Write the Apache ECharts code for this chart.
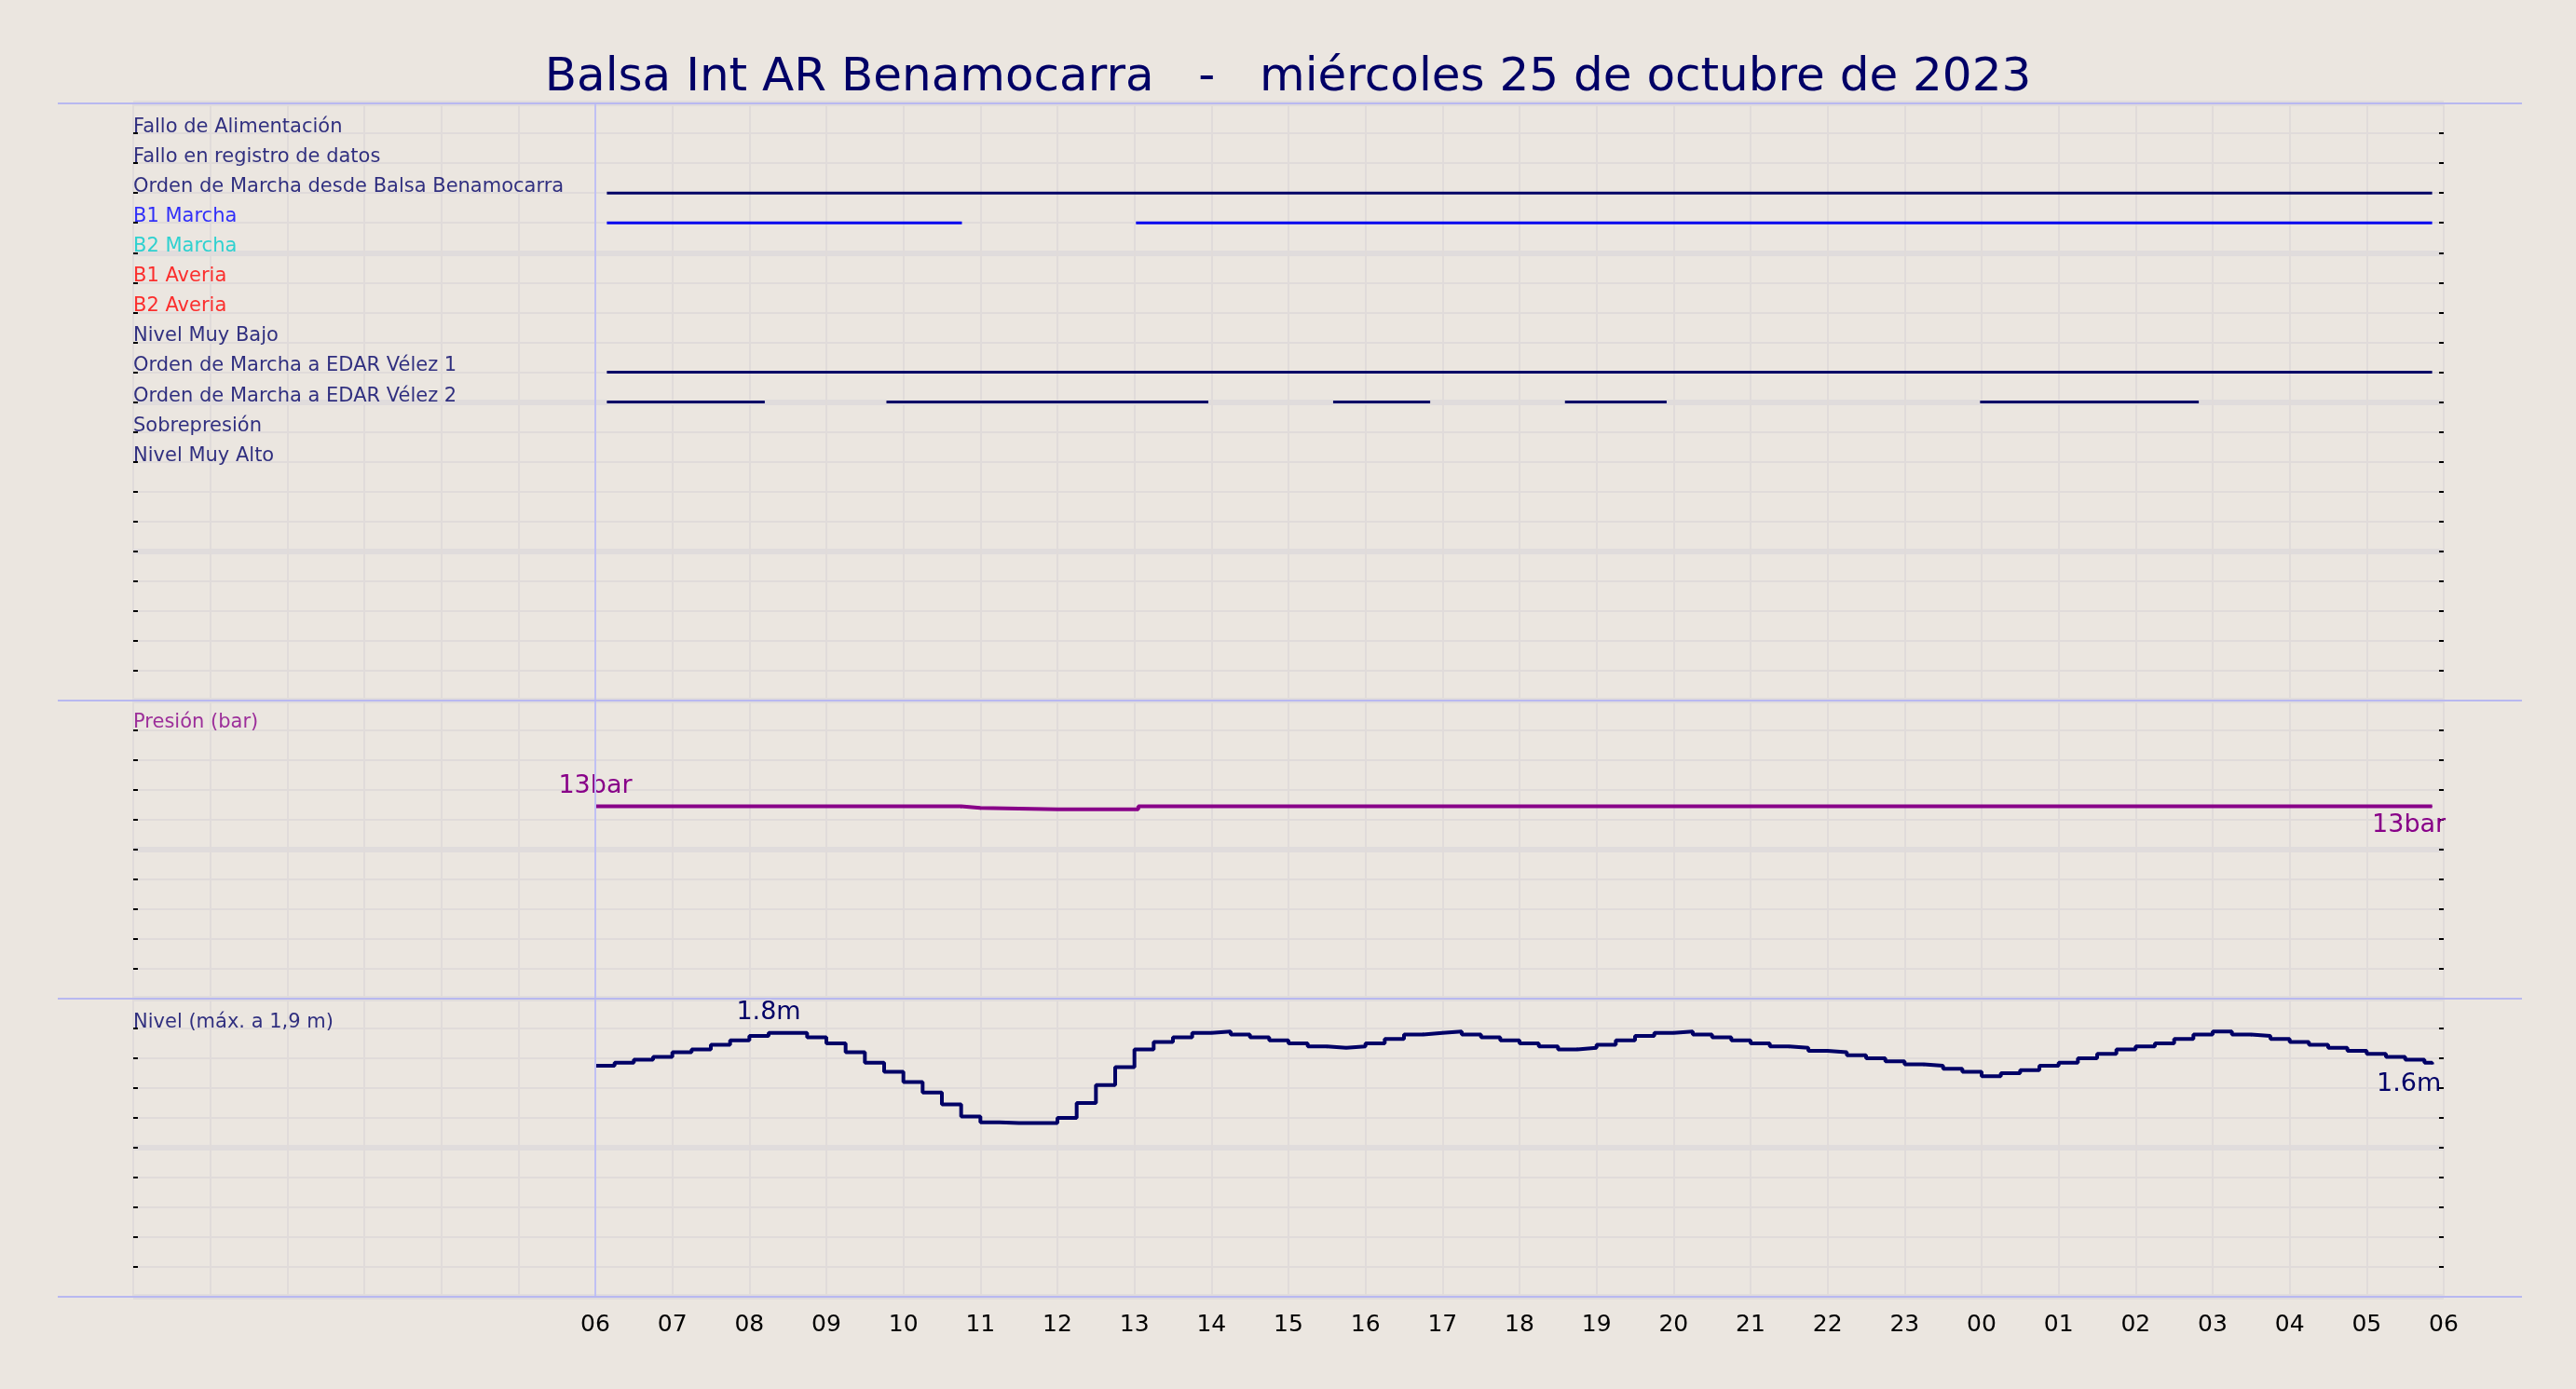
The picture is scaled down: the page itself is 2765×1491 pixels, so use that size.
<!DOCTYPE html>
<html><head><meta charset="utf-8">
<script src="https://cdn.jsdelivr.net/npm/echarts@6/dist/echarts.min.js"></script>
<style>html,body{margin:0;padding:0;background:#ebe6e0}#c{width:2765px;height:1491px}</style>
</head><body><div id="c"></div>
<script>
const rowNames = ['Fallo de Alimentación','Fallo en registro de datos','Orden de Marcha desde Balsa Benamocarra','B1 Marcha','B2 Marcha','B1 Averia','B2 Averia','Nivel Muy Bajo','Orden de Marcha a EDAR Vélez 1','Orden de Marcha a EDAR Vélez 2','Sobrepresión','Nivel Muy Alto'];
const rowColors = ['#000066','#000066','#000066','#0000ff','#00cccc','#ff0000','#ff0000','#000066','#000066','#000066','#000066','#000066'];
// segments [start hour, end hour] per row (hours from 00:00 of day 1)
const segOrdenBalsa = [[6.15,29.85]];
const segB1Marcha = [[6.15,10.76],[13.02,29.85]];
const segEdar1 = [[6.15,29.85]];
const segEdar2 = [[6.15,8.2],[9.78,13.96],[15.58,16.84],[18.59,19.91],[23.98,26.82]];
const presTimes = [6,7,8,9,10,10.5,10.75,11,12,13,13.05,14,16,18,20,22,24,26,28,29.85];
const presVals  = [12.9,12.9,12.9,12.9,12.9,12.9,12.8,12.7,12.7,12.7,12.9,12.9,12.9,12.9,12.9,12.9,12.9,12.9,12.9,12.9];
const levelTimes = [6,6.25,6.5,6.75,7,7.25,7.5,7.75,8,8.25,8.5,8.75,9,9.25,9.5,9.75,10,10.25,10.5,10.75,11,11.25,11.5,11.75,12,12.25,12.5,12.75,13,13.25,13.5,13.75,14,14.25,14.5,14.75,15,15.25,15.5,15.75,16,16.25,16.5,16.75,17,17.25,17.5,17.75,18,18.25,18.5,18.75,19,19.25,19.5,19.75,20,20.25,20.5,20.75,21,21.25,21.5,21.75,22,22.25,22.5,22.75,23,23.25,23.5,23.75,24,24.25,24.5,24.75,25,25.25,25.5,25.75,26,26.25,26.5,26.75,27,27.25,27.5,27.75,28,28.25,28.5,28.75,29,29.25,29.5,29.75,29.85];
const levelVals = [1.55,1.57,1.59,1.61,1.64,1.66,1.69,1.72,1.75,1.77,1.77,1.74,1.70,1.64,1.57,1.51,1.44,1.37,1.29,1.21,1.17,1.165,1.165,1.165,1.20,1.30,1.42,1.54,1.66,1.71,1.74,1.77,1.78,1.76,1.74,1.72,1.70,1.68,1.67,1.68,1.70,1.73,1.76,1.77,1.78,1.76,1.74,1.72,1.70,1.68,1.66,1.67,1.69,1.72,1.75,1.77,1.78,1.76,1.74,1.72,1.70,1.68,1.67,1.65,1.64,1.62,1.60,1.58,1.56,1.55,1.53,1.51,1.48,1.50,1.52,1.55,1.57,1.60,1.63,1.66,1.68,1.70,1.73,1.76,1.78,1.76,1.75,1.73,1.71,1.69,1.67,1.65,1.63,1.61,1.59,1.57,1.56];

const F = 'DejaVu Sans';
const navy = '#000066', purple = '#880088';
const L = 143, W = 2480;
const grids = [
  {left:L, width:W, top:111, height:641},
  {left:L, width:W, top:752, height:320},
  {left:L, width:W, top:1072, height:320}
];
const gridLine = {show:true, lineStyle:{color:'#e0dbda', width:2}};
const xAxes = grids.map((g,i)=>({type:'value', gridIndex:i, min:0, max:30, interval:1,
  axisLine:{show:false}, axisTick:{show:false}, splitLine:gridLine,
  axisLabel:{show:i===2, fontFamily:F, fontSize:25, color:'#000', margin:18,
    formatter:v=> v>=6 ? String(v%24).padStart(2,'0') : ''}}));
function yPair(i, max, step, big){
  return [
    {type:'value', gridIndex:i, min:0, max:max, interval:step, inverse:i===0,
     axisLine:{show:false}, axisLabel:{show:false},
     axisTick:{show:true, inside:true, length:5, lineStyle:{color:'#000', width:2}},
     splitLine:gridLine},
    {type:'value', gridIndex:i, min:0, max:max, interval:big, inverse:i===0, position:'right',
     axisLine:{show:false}, axisLabel:{show:false},
     axisTick:{show:false},
     splitLine:{show:true, lineStyle:{color:'#e0dcdc', width:6}}},
    {type:'value', gridIndex:i, min:0, max:max, interval:step, inverse:i===0, position:'right',
     axisLine:{show:false}, axisLabel:{show:false}, splitLine:{show:false},
     axisTick:{show:true, inside:true, length:5, lineStyle:{color:'#000', width:2}}}
  ];
}
const yAxes = [].concat(yPair(0,20,1,5), yPair(1,20,2,10), yPair(2,2,0.2,1));
const series = [];
series.push({type:'scatter', xAxisIndex:0, yAxisIndex:0, symbolSize:0, silent:true,
  data: rowNames.map((n,i)=>({value:[0,i+0.8], label:{show:true, position:'right', distance:0, formatter:n,
    color:rowColors[i], fontFamily:F, fontSize:21}}))});
function segSeries(segs, row, color){
  const d=[]; segs.forEach((s,k)=>{ if(k) d.push([s[0],'-']); d.push([s[0],row+1],[s[1],row+1]); });
  series.push({type:'line', xAxisIndex:0, yAxisIndex:0, data:d, symbol:'none', connectNulls:false,
    lineStyle:{color, width:3}, silent:true});
}
segSeries(segOrdenBalsa,2,navy);
segSeries(segB1Marcha,3,'#0000ee');
segSeries(segEdar1,8,navy);
segSeries(segEdar2,9,navy);
[0,1,2].forEach(g=>series.push({type:'line', xAxisIndex:g, yAxisIndex:g*3, data:[], markLine:{symbol:'none', silent:true,
  label:{show:false}, lineStyle:{color:'#c0c0f4', width:2, type:'solid'}, data:[{xAxis:6}]}}));
series.push({type:'scatter', xAxisIndex:1, yAxisIndex:3, symbolSize:0, silent:true,
  data:[{value:[0,18.5], label:{show:true, position:'right', distance:0, formatter:'Presión (bar)', color:purple, fontFamily:F, fontSize:21}}]});
series.push({type:'scatter', xAxisIndex:2, yAxisIndex:6, symbolSize:0, silent:true,
  data:[{value:[0,1.84], label:{show:true, position:'right', distance:0, formatter:'Nivel (máx. a 1,9 m)', color:navy, fontFamily:F, fontSize:21}}]});
series.push({type:'line', xAxisIndex:1, yAxisIndex:3, step:'end', symbol:'circle', symbolSize:1, showSymbol:true,
  itemStyle:{color:purple}, lineStyle:{color:purple, width:4},
  data: presTimes.map((t,i)=>{
    const it={value:[t,presVals[i]]};
    if(i===0) it.label={show:true, position:'top', distance:8, formatter:'13bar', color:purple, fontFamily:F, fontSize:27};
    if(i===presTimes.length-1) it.label={show:true, position:'bottom', distance:6, offset:[-25,0], formatter:'13bar', color:purple, fontFamily:F, fontSize:27};
    return it; })});
series.push({type:'line', xAxisIndex:2, yAxisIndex:6, step:'end', symbol:'circle', symbolSize:1, showSymbol:true,
  itemStyle:{color:navy}, lineStyle:{color:navy, width:4},
  data: levelTimes.map((t,i)=>{
    const it={value:[t,levelVals[i]]};
    if(i===9) it.label={show:true, position:'top', distance:8, formatter:'1.8m', color:navy, fontFamily:F, fontSize:27};
    if(i===levelTimes.length-1) it.label={show:true, position:'bottom', distance:8, offset:[-25,0], formatter:'1.6m', color:navy, fontFamily:F, fontSize:27};
    return it; })});

const chart = echarts.init(document.getElementById('c'));
chart.setOption({
  backgroundColor:'#ebe6e0', animation:false,
  title:{text:'Balsa Int AR Benamocarra   -   miércoles 25 de octubre de 2023', left:'center', top:54,
    textStyle:{fontFamily:F, fontSize:50, fontWeight:'normal', color:navy}},
  grid:grids, xAxis:xAxes, yAxis:yAxes, series:series,
  graphic:[111,752,1072,1392].map(y=>({type:'line', silent:true, shape:{x1:62,y1:y,x2:2707,y2:y}, style:{stroke:'#b8b8f0', lineWidth:2}, z:100}))
});
</script></body></html>
